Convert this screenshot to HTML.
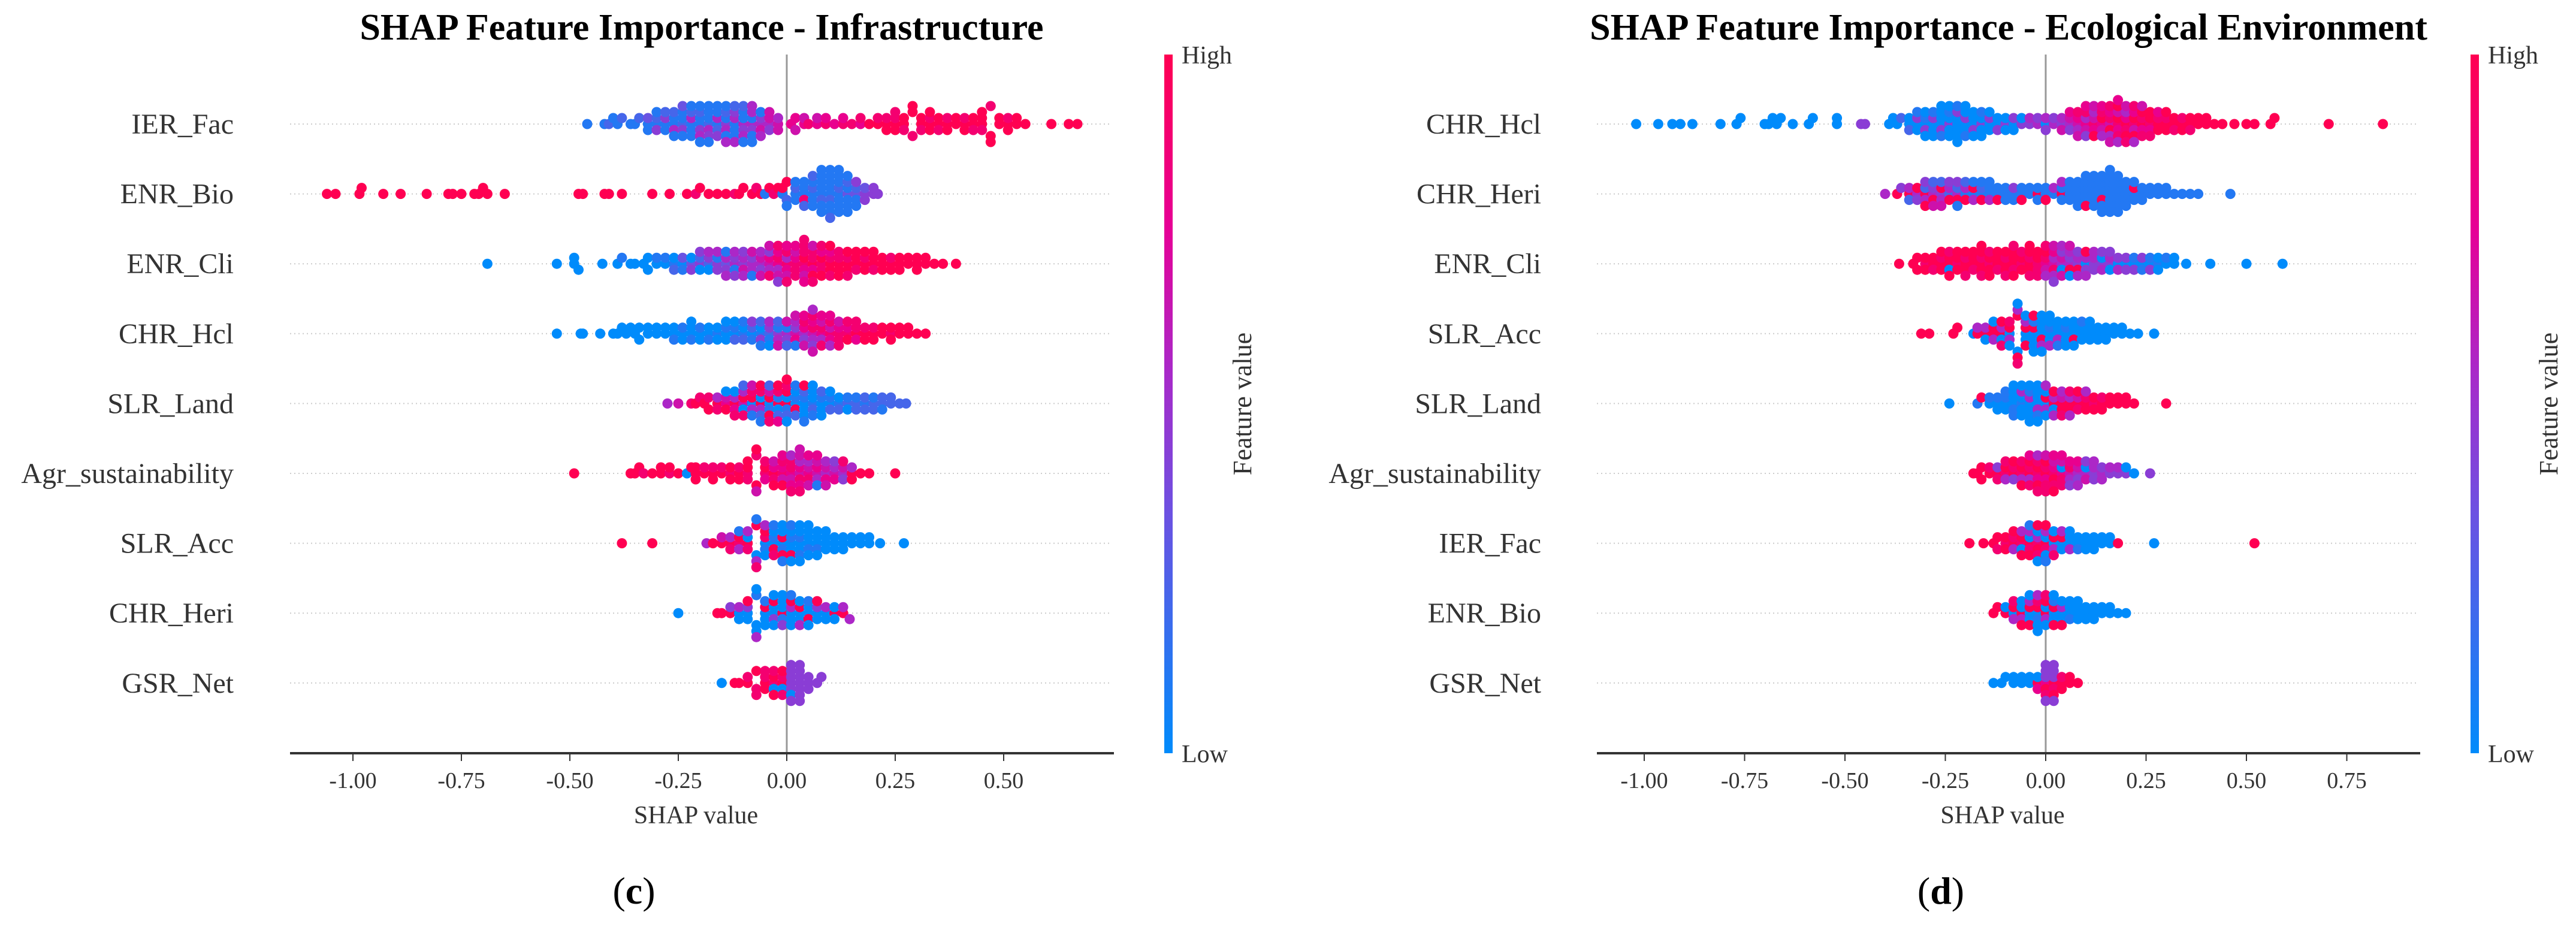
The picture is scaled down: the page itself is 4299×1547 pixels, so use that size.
<!DOCTYPE html>
<html><head><meta charset="utf-8"><title>SHAP Feature Importance</title>
<style>
html,body{margin:0;padding:0;background:#fff;}
svg{display:block;}
text{font-family:"Liberation Serif","Times New Roman",serif;}
</style></head>
<body>
<svg id="fig" width="4299" height="1547" viewBox="0 0 4299 1547" xmlns="http://www.w3.org/2000/svg">
<defs>
<linearGradient id="cbar" x1="0" y1="1" x2="0" y2="0">
<stop offset="0" stop-color="#008bfb"/><stop offset="0.35" stop-color="#6e50e1"/><stop offset="0.55" stop-color="#aa28c8"/><stop offset="0.75" stop-color="#e60096"/><stop offset="1" stop-color="#ff0052"/>
</linearGradient>
</defs>
<rect x="0" y="0" width="4299" height="1547" fill="#fff"/>
</svg>
<script>
// ---------- Panel (c) data: Infrastructure ----------
const featuresC = ["IER_Fac","ENR_Bio","ENR_Cli","CHR_Hcl","SLR_Land","Agr_sustainability","SLR_Acc","CHR_Heri","GSR_Net"];
const IER_Fac_c = [[-0.46,1],[-0.42,1],[-0.41,2],[-0.40,1],[-0.39,1],[-0.38,2],[-0.36,1],[-0.35,1],[-0.34,2],
[-0.32,1],[-0.32,3],[-0.32,1],[-0.30,1],[-0.30,2],[-0.30,4],[-0.30,1],[-0.28,1],[-0.28,4],[-0.28,1],[-0.28,2],
[-0.26,1],[-0.26,1],[-0.26,5],[-0.26,2],[-0.26,1],[-0.24,2],[-0.24,1],[-0.24,4],[-0.24,1],[-0.24,1],[-0.24,3],
[-0.22,1],[-0.22,5],[-0.22,1],[-0.22,2],[-0.22,1],[-0.22,1],[-0.20,1],[-0.20,1],[-0.20,4],[-0.20,2],[-0.20,5],[-0.20,1],[-0.20,1],
[-0.18,2],[-0.18,1],[-0.18,5],[-0.18,1],[-0.18,4],[-0.18,1],[-0.18,1],[-0.16,1],[-0.16,5],[-0.16,2],[-0.16,1],[-0.16,4],[-0.16,1],
[-0.14,4],[-0.14,1],[-0.14,5],[-0.14,2],[-0.14,1],[-0.14,1],[-0.14,5],[-0.12,1],[-0.12,5],[-0.12,1],[-0.12,4],[-0.12,1],[-0.12,2],[-0.12,5],
[-0.10,5],[-0.10,1],[-0.10,4],[-0.10,1],[-0.10,5],[-0.10,2],[-0.10,1],[-0.08,5],[-0.08,1],[-0.08,4],[-0.08,5],[-0.08,1],[-0.08,5],[-0.08,1],
[-0.06,5],[-0.06,4],[-0.06,6],[-0.06,1],[-0.06,5],[-0.04,5],[-0.04,6],[-0.04,4],[-0.04,6],[-0.02,6],[-0.02,5],[-0.02,6],
[0.01,7],[0.02,7],[0.02,6],[0.04,7],[0.04,6],[0.05,8],[0.07,7],[0.07,6],[0.09,8],[0.09,7],[0.11,7],[0.13,8],[0.13,7],[0.15,8],[0.17,7],[0.17,8],[0.19,9],
[0.21,9],[0.21,8],[0.23,9],[0.23,8],[0.23,9],[0.25,9],[0.25,8],[0.25,9],[0.25,8],[0.27,9],[0.27,9],[0.27,8],[0.29,9],[0.29,8],[0.29,9],
[0.31,9],[0.31,9],[0.31,8],[0.33,9],[0.33,8],[0.33,9],[0.33,9],[0.35,9],[0.35,9],[0.35,8],[0.37,9],[0.37,8],[0.37,9],[0.39,9],[0.39,9],
[0.41,9],[0.41,8],[0.41,9],[0.43,9],[0.43,9],[0.43,8],[0.45,9],[0.45,9],[0.45,8],[0.45,9],[0.47,9],[0.47,8],[0.47,9],[0.49,9],[0.49,9],
[0.51,9],[0.51,8],[0.51,9],[0.53,9],[0.53,9],[0.55,9],[0.61,9],[0.65,9],[0.67,9]];
const ENR_Bio_c = [[-1.06,9],[-1.04,9],[-0.985,9],[-0.98,9],[-0.93,9],[-0.89,9],[-0.83,9],[-0.78,9],[-0.77,9],[-0.75,9],[-0.72,9],[-0.71,9],[-0.70,9],[-0.69,9],[-0.65,9],
[-0.48,9],[-0.47,9],[-0.42,9],[-0.41,9],[-0.38,9],[-0.31,9],[-0.27,9],[-0.23,9],[-0.21,8],[-0.20,9],[-0.18,9],[-0.16,9],[-0.14,9],[-0.12,8],[-0.11,9],[-0.10,9],
[-0.08,9],[-0.07,8],[-0.06,9],[-0.05,1],[-0.04,9],[-0.03,8],[-0.02,9],[-0.01,1],[-0.01,9],
[0.00,2],[0.00,9],[0.00,1],[0.02,1],[0.02,2],[0.02,1],[0.02,1],[0.04,1],[0.04,1],[0.04,8],[0.04,1],[0.04,2],
[0.06,1],[0.06,2],[0.06,1],[0.06,1],[0.06,1],[0.06,2],[0.08,1],[0.08,1],[0.08,2],[0.08,1],[0.08,1],[0.08,1],[0.08,1],[0.08,1],
[0.10,1],[0.10,1],[0.10,2],[0.10,1],[0.10,1],[0.10,1],[0.10,1],[0.10,1],[0.10,2],[0.12,1],[0.12,2],[0.12,1],[0.12,1],[0.12,1],[0.12,1],[0.12,1],[0.12,1],
[0.14,3],[0.14,1],[0.14,1],[0.14,2],[0.14,1],[0.14,1],[0.14,1],[0.16,3],[0.16,2],[0.16,1],[0.16,4],[0.16,1],[0.18,4],[0.18,3],[0.18,4],[0.20,4],[0.20,4],[0.21,4]];
const ENR_Cli_c = [[-0.69,0],[-0.53,0],[-0.49,0],[-0.49,0],[-0.48,0],[-0.425,0],[-0.39,0],[-0.38,1],[-0.36,0],[-0.35,0],[-0.33,0],[-0.32,0],[-0.32,0],
[-0.30,0],[-0.30,1],[-0.28,0],[-0.28,1],[-0.26,1],[-0.26,0],[-0.26,2],[-0.24,0],[-0.24,3],[-0.24,1],[-0.22,3],[-0.22,0],[-0.22,4],
[-0.20,4],[-0.20,2],[-0.20,0],[-0.20,4],[-0.18,2],[-0.18,4],[-0.18,0],[-0.18,5],[-0.16,4],[-0.16,1],[-0.16,4],[-0.16,5],
[-0.14,3],[-0.14,5],[-0.14,4],[-0.14,1],[-0.14,5],[-0.12,5],[-0.12,4],[-0.12,1],[-0.12,5],[-0.12,4],[-0.10,4],[-0.10,5],[-0.10,6],[-0.10,4],[-0.10,5],
[-0.08,5],[-0.08,4],[-0.08,5],[-0.08,6],[-0.08,1],[-0.06,5],[-0.06,6],[-0.06,4],[-0.06,5],[-0.06,6],[-0.04,6],[-0.04,7],[-0.04,5],[-0.04,4],[-0.04,8],[-0.04,6],
[-0.02,7],[-0.02,8],[-0.02,5],[-0.02,7],[-0.02,6],[-0.02,8],[-0.02,4],[0.00,8],[0.00,5],[0.00,7],[0.00,8],[0.00,6],[0.00,7],[0.00,8],
[0.02,8],[0.02,7],[0.02,8],[0.02,6],[0.02,8],[0.02,7],[0.04,8],[0.04,9],[0.04,7],[0.04,8],[0.04,6],[0.04,8],[0.04,7],[0.04,8],
[0.06,9],[0.06,8],[0.06,7],[0.06,8],[0.06,9],[0.06,6],[0.06,8],[0.08,8],[0.08,9],[0.08,8],[0.08,7],[0.08,9],[0.08,8],
[0.10,9],[0.10,8],[0.10,9],[0.10,7],[0.10,8],[0.10,9],[0.12,9],[0.12,8],[0.12,9],[0.12,8],[0.12,9],[0.14,9],[0.14,8],[0.14,9],[0.14,9],[0.14,8],
[0.16,9],[0.16,9],[0.16,8],[0.16,9],[0.18,9],[0.18,8],[0.18,9],[0.18,9],[0.20,9],[0.20,9],[0.20,8],[0.20,9],[0.22,9],[0.22,9],[0.22,9],
[0.24,9],[0.24,8],[0.24,9],[0.26,9],[0.26,9],[0.26,9],[0.28,9],[0.28,9],[0.30,9],[0.30,9],[0.30,9],[0.32,9],[0.32,9],[0.34,9],[0.36,9],[0.39,9]];
const CHR_Hcl_c = [[-0.53,0],[-0.475,0],[-0.47,0],[-0.43,0],[-0.40,0],[-0.39,0],[-0.38,0],[-0.37,0],[-0.36,0],[-0.35,0],[-0.34,0],[-0.34,0],[-0.32,0],[-0.32,0],
[-0.30,0],[-0.30,0],[-0.28,0],[-0.28,0],[-0.26,0],[-0.26,0],[-0.26,1],[-0.24,0],[-0.24,1],[-0.24,0],[-0.22,0],[-0.22,0],[-0.22,1],[-0.22,0],
[-0.20,0],[-0.20,1],[-0.20,0],[-0.18,0],[-0.18,0],[-0.18,1],[-0.16,1],[-0.16,0],[-0.16,0],[-0.14,0],[-0.14,1],[-0.14,0],[-0.14,0],
[-0.12,0],[-0.12,1],[-0.12,2],[-0.12,0],[-0.10,1],[-0.10,0],[-0.10,2],[-0.10,1],[-0.08,0],[-0.08,2],[-0.08,1],[-0.08,4],
[-0.06,1],[-0.06,0],[-0.06,4],[-0.06,2],[-0.06,1],[-0.04,2],[-0.04,4],[-0.04,1],[-0.04,5],[-0.04,0],[-0.02,4],[-0.02,1],[-0.02,5],[-0.02,2],[-0.02,6],
[0.00,5],[0.00,1],[0.00,4],[0.00,6],[0.00,2],[0.02,6],[0.02,4],[0.02,7],[0.02,5],[0.02,1],[0.02,6],[0.04,5],[0.04,7],[0.04,4],[0.04,8],[0.04,6],[0.04,7],
[0.06,6],[0.06,8],[0.06,5],[0.06,7],[0.06,4],[0.06,8],[0.06,6],[0.06,5],[0.08,7],[0.08,8],[0.08,5],[0.08,6],[0.08,8],[0.08,7],
[0.10,8],[0.10,6],[0.10,7],[0.10,8],[0.10,5],[0.10,7],[0.12,8],[0.12,7],[0.12,8],[0.12,6],[0.12,8],[0.14,8],[0.14,7],[0.14,9],[0.14,8],
[0.16,9],[0.16,8],[0.16,7],[0.16,8],[0.18,9],[0.18,8],[0.18,9],[0.20,9],[0.20,8],[0.20,9],[0.22,9],[0.22,9],[0.24,8],[0.24,9],[0.24,9],
[0.26,9],[0.26,9],[0.28,9],[0.28,9],[0.30,9],[0.32,9]];
const SLR_Land_c = [[-0.275,5],[-0.25,6],[-0.22,8],[-0.21,9],[-0.20,8],[-0.19,9],[-0.18,8],[-0.18,9],[-0.16,9],[-0.16,5],[-0.16,8],
[-0.14,7],[-0.14,6],[-0.14,9],[-0.14,0],[-0.12,9],[-0.12,5],[-0.12,7],[-0.12,0],[-0.12,8],[-0.10,6],[-0.10,9],[-0.10,0],[-0.10,5],[-0.10,8],[-0.10,2],
[-0.08,0],[-0.08,9],[-0.08,5],[-0.08,8],[-0.08,1],[-0.08,6],[-0.06,9],[-0.06,0],[-0.06,5],[-0.06,8],[-0.06,2],[-0.06,9],[-0.06,1],
[-0.04,0],[-0.04,9],[-0.04,1],[-0.04,6],[-0.04,9],[-0.04,2],[-0.04,8],[-0.02,9],[-0.02,1],[-0.02,0],[-0.02,8],[-0.02,2],[-0.02,9],[-0.02,7],
[0.00,9],[0.00,0],[0.00,1],[0.00,9],[0.00,2],[0.00,8],[0.00,0],[0.00,9],[0.02,0],[0.02,1],[0.02,9],[0.02,0],[0.02,2],[0.02,1],
[0.04,0],[0.04,1],[0.04,0],[0.04,2],[0.04,0],[0.04,9],[0.04,1],[0.06,1],[0.06,0],[0.06,2],[0.06,0],[0.06,1],[0.06,0],
[0.08,0],[0.08,1],[0.08,0],[0.08,2],[0.08,0],[0.10,0],[0.10,1],[0.10,2],[0.10,0],[0.12,1],[0.12,0],[0.12,2],[0.14,2],[0.14,1],[0.14,0],
[0.16,2],[0.16,1],[0.16,2],[0.18,1],[0.18,2],[0.18,2],[0.20,2],[0.20,1],[0.20,2],[0.22,2],[0.22,2],[0.22,1],[0.24,2],[0.24,2],[0.26,2],[0.275,2]];
const Agr_sustainability_c = [[-0.49,9],[-0.36,9],[-0.35,9],[-0.34,9],[-0.33,8],[-0.31,9],[-0.29,9],[-0.29,9],[-0.27,8],[-0.27,9],[-0.25,9],[-0.23,0],[-0.22,9],
[-0.21,9],[-0.21,9],[-0.21,9],[-0.19,9],[-0.19,8],[-0.17,9],[-0.17,8],[-0.17,9],[-0.15,9],[-0.15,8],[-0.13,8],[-0.13,9],[-0.13,9],
[-0.11,9],[-0.11,8],[-0.11,9],[-0.09,8],[-0.09,9],[-0.09,8],[-0.09,9],[-0.07,9],[-0.07,8],[-0.07,6],[-0.07,9],[-0.05,8],[-0.05,9],[-0.05,7],[-0.05,8],
[-0.03,9],[-0.03,7],[-0.03,8],[-0.03,6],[-0.03,9],[-0.01,8],[-0.01,7],[-0.01,6],[-0.01,8],[-0.01,9],[-0.01,7],
[0.01,7],[0.01,8],[0.01,6],[0.01,8],[0.01,7],[0.01,5],[0.01,8],[0.03,6],[0.03,7],[0.03,8],[0.03,5],[0.03,7],[0.03,6],[0.03,8],[0.03,6],
[0.05,7],[0.05,6],[0.05,8],[0.05,5],[0.05,6],[0.05,7],[0.07,6],[0.07,7],[0.07,5],[0.07,6],[0.07,1],[0.07,7],[0.09,5],[0.09,6],[0.09,7],[0.09,5],[0.09,6],
[0.11,6],[0.11,5],[0.11,7],[0.11,4],[0.13,5],[0.13,6],[0.13,4],[0.13,8],[0.15,9],[0.15,5],[0.15,9],[0.17,9],[0.19,9],[0.25,9]];
const SLR_Acc_c = [[-0.38,9],[-0.31,9],[-0.185,5],[-0.17,9],[-0.15,9],[-0.15,6],[-0.13,9],[-0.13,5],[-0.13,8],[-0.11,8],[-0.11,9],[-0.11,5],[-0.11,1],
[-0.09,9],[-0.09,0],[-0.09,8],[-0.09,5],[-0.07,0],[-0.07,9],[-0.07,5],[-0.07,1],[-0.07,8],[-0.05,0],[-0.05,8],[-0.05,1],[-0.05,9],[-0.05,0],[-0.05,5],
[-0.03,0],[-0.03,1],[-0.03,9],[-0.03,0],[-0.03,8],[-0.03,1],[-0.01,0],[-0.01,9],[-0.01,1],[-0.01,0],[-0.01,9],[-0.01,0],[-0.01,1],
[0.01,0],[0.01,1],[0.01,0],[0.01,0],[0.01,9],[0.01,1],[0.01,0],[0.03,0],[0.03,1],[0.03,0],[0.03,0],[0.03,1],[0.03,0],[0.03,0],
[0.05,0],[0.05,0],[0.05,1],[0.05,0],[0.05,0],[0.05,0],[0.07,0],[0.07,0],[0.07,1],[0.07,0],[0.07,0],[0.09,0],[0.09,0],[0.09,0],[0.09,0],
[0.11,0],[0.11,0],[0.11,0],[0.13,0],[0.13,0],[0.13,0],[0.15,0],[0.15,0],[0.17,0],[0.17,0],[0.19,0],[0.19,0],[0.215,0],[0.27,0]];
const CHR_Heri_c = [[-0.25,0],[-0.16,9],[-0.15,9],[-0.13,9],[-0.13,4],[-0.11,0],[-0.11,5],[-0.11,0],[-0.09,0],[-0.09,4],[-0.09,0],[-0.09,9],
[-0.07,0],[-0.07,1],[-0.07,0],[-0.07,0],[-0.07,5],[-0.05,0],[-0.05,9],[-0.05,0],[-0.05,1],[-0.05,0],[-0.03,0],[-0.03,0],[-0.03,4],[-0.03,9],[-0.03,0],[-0.03,0],
[-0.01,9],[-0.01,0],[-0.01,1],[-0.01,0],[-0.01,4],[-0.01,0],[0.01,0],[0.01,5],[0.01,0],[0.01,9],[0.01,0],[0.01,1],[0.03,0],[0.03,9],[0.03,0],[0.03,0],[0.03,5],
[0.05,0],[0.05,0],[0.05,9],[0.05,1],[0.05,0],[0.07,0],[0.07,4],[0.07,0],[0.07,9],[0.09,0],[0.09,5],[0.09,0],[0.11,9],[0.11,0],[0.11,0],[0.13,9],[0.13,5],[0.145,5]];
const GSR_Net_c = [[-0.15,0],[-0.12,9],[-0.11,9],[-0.09,9],[-0.09,8],[-0.07,8],[-0.07,9],[-0.07,8],[-0.05,9],[-0.05,8],[-0.05,9],[-0.05,8],
[-0.03,8],[-0.03,9],[-0.03,0],[-0.03,8],[-0.03,9],[-0.01,9],[-0.01,8],[-0.01,0],[-0.01,9],[-0.01,8],
[0.01,4],[0.01,4],[0.01,4],[0.01,4],[0.01,0],[0.01,4],[0.01,4],[0.03,4],[0.03,4],[0.03,4],[0.03,4],[0.03,4],[0.03,4],[0.03,4],[0.05,4],[0.05,4],[0.05,4],[0.07,4],[0.08,4]];
const pointsC = [IER_Fac_c, ENR_Bio_c, ENR_Cli_c, CHR_Hcl_c, SLR_Land_c, Agr_sustainability_c, SLR_Acc_c, CHR_Heri_c, GSR_Net_c];
const ticksC = [-1.00,-0.75,-0.50,-0.25,0.00,0.25,0.50];

// ---------- Panel (d) data: Ecological Environment ----------
const featuresD = ["CHR_Hcl","CHR_Heri","ENR_Cli","SLR_Acc","SLR_Land","Agr_sustainability","IER_Fac","ENR_Bio","GSR_Net"];
const CHR_Hcl_d = [[-1.02,0],[-0.965,0],[-0.93,0],[-0.91,0],[-0.88,0],[-0.81,0],[-0.77,0],[-0.76,0],[-0.70,0],[-0.69,0],[-0.68,0],[-0.67,0],[-0.66,0],[-0.63,0],[-0.59,0],[-0.58,0],
[-0.52,0],[-0.52,0],[-0.46,4],[-0.45,4],[-0.39,0],[-0.38,0],[-0.37,0],[-0.36,2],
[-0.34,0],[-0.34,0],[-0.34,2],[-0.32,0],[-0.32,4],[-0.32,0],[-0.32,1],[-0.30,0],[-0.30,1],[-0.30,4],[-0.30,0],[-0.30,0],[-0.28,0],[-0.28,4],[-0.28,0],[-0.28,1],[-0.28,0],
[-0.26,0],[-0.26,0],[-0.26,4],[-0.26,0],[-0.26,1],[-0.26,0],[-0.24,4],[-0.24,0],[-0.24,0],[-0.24,1],[-0.24,0],[-0.24,0],
[-0.22,0],[-0.22,0],[-0.22,0],[-0.22,4],[-0.22,0],[-0.22,1],[-0.22,0],[-0.20,0],[-0.20,4],[-0.20,0],[-0.20,0],[-0.20,1],[-0.20,0],
[-0.18,0],[-0.18,0],[-0.18,4],[-0.18,0],[-0.18,0],[-0.16,4],[-0.16,0],[-0.16,0],[-0.16,1],[-0.16,0],[-0.14,0],[-0.14,4],[-0.14,0],[-0.14,0],
[-0.12,0],[-0.12,0],[-0.12,4],[-0.10,4],[-0.10,0],[-0.10,0],[-0.08,0],[-0.08,4],[-0.08,0],[-0.06,4],[-0.06,0],[-0.04,4],[-0.04,5],[-0.02,5],[-0.02,4],[0.00,0],[0.00,5],[0.00,4],
[0.02,5],[0.02,4],[0.04,4],[0.04,5],[0.04,6],[0.06,5],[0.06,6],[0.06,4],[0.06,7],[0.08,6],[0.08,7],[0.08,5],[0.08,8],[0.08,6],
[0.10,7],[0.10,5],[0.10,6],[0.10,8],[0.10,4],[0.10,7],[0.12,8],[0.12,6],[0.12,7],[0.12,5],[0.12,9],[0.12,6],[0.14,7],[0.14,9],[0.14,6],[0.14,8],[0.14,5],[0.14,7],
[0.16,6],[0.16,8],[0.16,9],[0.16,7],[0.16,5],[0.16,8],[0.16,6],[0.18,8],[0.18,9],[0.18,7],[0.18,6],[0.18,8],[0.18,9],[0.18,5],[0.18,7],
[0.20,9],[0.20,7],[0.20,8],[0.20,5],[0.20,9],[0.20,6],[0.20,8],[0.22,8],[0.22,9],[0.22,6],[0.22,7],[0.22,9],[0.22,8],[0.22,5],
[0.24,9],[0.24,8],[0.24,7],[0.24,9],[0.24,8],[0.24,6],[0.26,8],[0.26,9],[0.26,7],[0.26,9],[0.26,8],[0.28,9],[0.28,8],[0.28,9],[0.28,7],
[0.30,9],[0.30,8],[0.30,9],[0.30,9],[0.32,9],[0.32,9],[0.32,8],[0.34,9],[0.34,8],[0.34,9],[0.36,9],[0.36,9],[0.36,8],[0.38,9],[0.38,9],[0.40,9],[0.40,9],
[0.42,9],[0.44,9],[0.47,9],[0.50,9],[0.52,9],[0.56,9],[0.57,9],[0.705,9],[0.84,9]];
const CHR_Heri_d = [[-0.40,5],[-0.37,9],[-0.36,4],[-0.34,9],[-0.34,5],[-0.34,2],[-0.32,5],[-0.32,9],[-0.32,4],[-0.30,9],[-0.30,2],[-0.30,5],[-0.30,4],[-0.30,9],
[-0.28,5],[-0.28,4],[-0.28,9],[-0.28,2],[-0.28,6],[-0.26,4],[-0.26,9],[-0.26,5],[-0.26,2],[-0.26,6],[-0.24,2],[-0.24,5],[-0.24,9],[-0.24,4],
[-0.22,5],[-0.22,2],[-0.22,9],[-0.22,4],[-0.22,1],[-0.20,1],[-0.20,5],[-0.20,9],[-0.20,2],[-0.18,1],[-0.18,9],[-0.18,5],[-0.18,1],
[-0.16,1],[-0.16,2],[-0.16,9],[-0.16,1],[-0.14,1],[-0.14,1],[-0.14,5],[-0.14,1],[-0.12,1],[-0.12,1],[-0.12,9],[-0.10,1],[-0.10,1],[-0.10,1],
[-0.08,1],[-0.08,4],[-0.08,1],[-0.06,1],[-0.06,1],[-0.06,9],[-0.04,1],[-0.04,1],[-0.02,9],[-0.02,1],[-0.02,1],[0.00,1],[0.00,1],[0.00,9],
[0.02,1],[0.02,5],[0.04,9],[0.04,1],[0.04,1],[0.04,5],[0.06,1],[0.06,1],[0.06,1],[0.06,1],[0.08,1],[0.08,1],[0.08,1],[0.08,1],[0.08,1],
[0.10,1],[0.10,1],[0.10,1],[0.10,1],[0.10,9],[0.10,1],[0.12,1],[0.12,1],[0.12,1],[0.12,1],[0.12,1],[0.12,1],[0.14,1],[0.14,1],[0.14,9],[0.14,1],[0.14,1],[0.14,1],[0.14,1],
[0.16,1],[0.16,1],[0.16,1],[0.16,1],[0.16,1],[0.16,1],[0.16,1],[0.16,1],[0.18,1],[0.18,1],[0.18,1],[0.18,1],[0.18,1],[0.18,1],[0.18,1],
[0.20,1],[0.20,1],[0.20,1],[0.20,1],[0.20,1],[0.22,1],[0.22,9],[0.22,1],[0.22,1],[0.24,1],[0.24,1],[0.24,1],[0.26,1],[0.26,1],[0.28,1],[0.28,1],[0.30,1],[0.30,1],
[0.32,1],[0.34,1],[0.36,1],[0.38,1],[0.46,1]];
const ENR_Cli_d = [[-0.365,9],[-0.33,9],[-0.32,9],[-0.32,9],[-0.30,8],[-0.30,9],[-0.30,9],[-0.28,9],[-0.28,9],[-0.28,8],[-0.26,9],[-0.26,8],[-0.26,9],[-0.26,9],
[-0.24,9],[-0.24,9],[-0.24,0],[-0.24,8],[-0.24,9],[-0.22,8],[-0.22,9],[-0.22,9],[-0.22,9],[-0.20,9],[-0.20,8],[-0.20,9],[-0.20,9],[-0.20,8],
[-0.18,9],[-0.18,9],[-0.18,8],[-0.18,9],[-0.16,9],[-0.16,8],[-0.16,9],[-0.16,9],[-0.16,8],[-0.16,9],[-0.14,8],[-0.14,9],[-0.14,9],[-0.14,8],[-0.14,9],
[-0.12,9],[-0.12,9],[-0.12,8],[-0.12,9],[-0.10,9],[-0.10,8],[-0.10,9],[-0.10,9],[-0.10,8],[-0.08,9],[-0.08,9],[-0.08,8],[-0.08,9],[-0.08,9],[-0.08,8],
[-0.06,8],[-0.06,9],[-0.06,9],[-0.06,8],[-0.04,9],[-0.04,8],[-0.04,9],[-0.04,9],[-0.04,8],[-0.04,9],[-0.02,8],[-0.02,9],[-0.02,8],[-0.02,9],[-0.02,8],
[0.00,7],[0.00,8],[0.00,6],[0.00,9],[0.00,5],[0.00,8],[0.02,6],[0.02,5],[0.02,8],[0.02,7],[0.02,5],[0.02,6],[0.02,4],
[0.04,5],[0.04,6],[0.04,0],[0.04,4],[0.04,6],[0.04,5],[0.06,5],[0.06,4],[0.06,9],[0.06,5],[0.06,0],[0.06,6],[0.08,4],[0.08,5],[0.08,9],[0.08,4],[0.08,5],
[0.10,0],[0.10,5],[0.10,4],[0.10,9],[0.10,5],[0.12,4],[0.12,5],[0.12,4],[0.12,5],[0.14,4],[0.14,0],[0.14,5],[0.14,4],[0.16,4],[0.16,5],[0.16,0],[0.16,4],
[0.18,0],[0.18,4],[0.18,5],[0.20,0],[0.20,4],[0.20,4],[0.22,0],[0.22,1],[0.22,4],[0.24,0],[0.24,4],[0.24,1],[0.26,0],[0.26,1],[0.26,4],
[0.28,1],[0.28,0],[0.28,0],[0.30,0],[0.30,1],[0.32,0],[0.32,0],[0.35,0],[0.41,0],[0.50,0],[0.59,0]];
const SLR_Acc_d = [[-0.31,9],[-0.29,9],[-0.23,9],[-0.22,9],[-0.18,0],[-0.17,9],[-0.17,5],[-0.15,9],[-0.15,5],[-0.15,0],[-0.13,9],[-0.13,9],[-0.13,5],[-0.13,0],
[-0.11,9],[-0.11,5],[-0.11,0],[-0.11,9],[-0.11,8],[-0.09,0],[-0.09,9],[-0.09,5],[-0.09,8],[-0.09,0],[-0.07,9],[-0.07,0],[-0.07,5],[-0.07,9],[-0.07,0],[-0.07,8],
[-0.05,0],[-0.05,9],[-0.05,0],[-0.05,5],[-0.05,9],[-0.05,0],[-0.03,0],[-0.03,9],[-0.03,0],[-0.03,1],[-0.03,0],[-0.03,9],[-0.03,0],
[-0.01,0],[-0.01,0],[-0.01,9],[-0.01,0],[-0.01,5],[-0.01,0],[-0.01,0],[0.01,0],[0.01,1],[0.01,0],[0.01,0],[0.01,5],[0.01,0],
[0.03,0],[0.03,0],[0.03,5],[0.03,0],[0.03,1],[0.05,0],[0.05,1],[0.05,0],[0.05,0],[0.05,0],[0.07,0],[0.07,0],[0.07,9],[0.07,0],[0.07,0],
[0.09,0],[0.09,0],[0.09,0],[0.09,1],[0.11,0],[0.11,0],[0.11,0],[0.11,0],[0.13,0],[0.13,0],[0.13,0],[0.15,0],[0.15,0],[0.15,0],
[0.17,0],[0.17,0],[0.19,0],[0.19,0],[0.21,0],[0.23,0],[0.27,0]];
const SLR_Land_d = [[-0.24,0],[-0.17,1],[-0.16,9],[-0.14,0],[-0.14,1],[-0.12,0],[-0.12,1],[-0.12,0],[-0.10,0],[-0.10,1],[-0.10,0],[-0.10,1],
[-0.08,0],[-0.08,0],[-0.08,1],[-0.08,0],[-0.08,1],[-0.08,0],[-0.06,1],[-0.06,0],[-0.06,0],[-0.06,5],[-0.06,0],[-0.06,0],
[-0.04,0],[-0.04,5],[-0.04,0],[-0.04,1],[-0.04,0],[-0.04,0],[-0.04,0],[-0.02,0],[-0.02,0],[-0.02,5],[-0.02,0],[-0.02,1],[-0.02,0],[-0.02,0],
[0.00,0],[0.00,9],[0.00,5],[0.00,0],[0.00,0],[0.00,5],[0.02,9],[0.02,5],[0.02,0],[0.02,9],[0.02,5],[0.04,9],[0.04,6],[0.04,9],[0.04,5],[0.04,8],
[0.06,9],[0.06,5],[0.06,9],[0.06,8],[0.06,5],[0.08,9],[0.08,6],[0.08,8],[0.08,9],[0.10,9],[0.10,8],[0.10,9],[0.10,5],[0.12,8],[0.12,9],[0.12,9],
[0.14,9],[0.14,8],[0.14,9],[0.16,9],[0.16,9],[0.18,9],[0.18,9],[0.20,9],[0.20,9],[0.22,9],[0.30,9]];
const Agr_sustainability_d = [[-0.18,9],[-0.17,9],[-0.16,9],[-0.16,9],[-0.14,9],[-0.14,8],[-0.12,9],[-0.12,4],[-0.12,8],[-0.10,8],[-0.10,9],[-0.10,5],[-0.10,8],
[-0.08,9],[-0.08,8],[-0.08,4],[-0.08,9],[-0.06,8],[-0.06,9],[-0.06,5],[-0.06,8],[-0.06,9],[-0.04,9],[-0.04,8],[-0.04,5],[-0.04,9],[-0.04,8],[-0.04,7],
[-0.02,8],[-0.02,9],[-0.02,7],[-0.02,8],[-0.02,9],[-0.02,5],[-0.02,8],[0.00,9],[0.00,8],[0.00,7],[0.00,9],[0.00,8],[0.00,6],[0.00,8],
[0.02,8],[0.02,7],[0.02,9],[0.02,6],[0.02,8],[0.02,7],[0.02,9],[0.04,7],[0.04,0],[0.04,8],[0.04,6],[0.04,8],[0.04,7],
[0.06,6],[0.06,8],[0.06,5],[0.06,7],[0.06,4],[0.08,5],[0.08,6],[0.08,4],[0.08,7],[0.08,5],[0.10,5],[0.10,0],[0.10,6],[0.10,4],
[0.12,4],[0.12,5],[0.12,4],[0.12,5],[0.14,5],[0.14,4],[0.14,5],[0.16,4],[0.16,5],[0.18,4],[0.18,5],[0.20,4],[0.20,0],[0.22,0],[0.26,4]];
const IER_Fac_d = [[-0.19,9],[-0.155,9],[-0.13,9],[-0.12,9],[-0.12,8],[-0.10,8],[-0.10,9],[-0.10,9],[-0.08,9],[-0.08,8],[-0.08,5],[-0.08,9],
[-0.06,8],[-0.06,9],[-0.06,0],[-0.06,5],[-0.06,9],[-0.04,9],[-0.04,0],[-0.04,8],[-0.04,5],[-0.04,9],[-0.04,1],
[-0.02,8],[-0.02,5],[-0.02,9],[-0.02,0],[-0.02,8],[-0.02,9],[-0.02,0],[0.00,9],[0.00,0],[0.00,8],[0.00,5],[0.00,0],[0.00,9],[0.00,1],
[0.02,0],[0.02,9],[0.02,5],[0.02,0],[0.02,8],[0.04,0],[0.04,9],[0.04,0],[0.04,5],[0.06,0],[0.06,0],[0.06,5],[0.06,0],[0.08,0],[0.08,0],[0.08,1],
[0.10,0],[0.10,0],[0.10,0],[0.12,0],[0.12,0],[0.12,0],[0.14,0],[0.14,0],[0.16,0],[0.16,0],[0.18,9],[0.27,0],[0.52,9]];
const ENR_Bio_d = [[-0.13,9],[-0.12,9],[-0.10,9],[-0.10,0],[-0.08,0],[-0.08,9],[-0.08,5],[-0.08,8],[-0.06,9],[-0.06,0],[-0.06,5],[-0.06,0],[-0.06,9],
[-0.04,0],[-0.04,9],[-0.04,0],[-0.04,5],[-0.04,9],[-0.04,0],[-0.02,0],[-0.02,9],[-0.02,1],[-0.02,8],[-0.02,0],[-0.02,5],[-0.02,0],
[0.00,9],[0.00,0],[0.00,5],[0.00,9],[0.00,0],[0.00,8],[0.02,0],[0.02,9],[0.02,0],[0.02,1],[0.02,9],[0.02,0],[0.04,0],[0.04,5],[0.04,0],[0.04,0],[0.04,9],
[0.06,0],[0.06,0],[0.06,1],[0.06,0],[0.08,0],[0.08,0],[0.08,0],[0.08,0],[0.10,0],[0.10,0],[0.10,0],[0.12,0],[0.12,0],[0.12,0],[0.14,0],[0.14,0],[0.16,0],[0.16,0],[0.18,0],[0.20,0]];
const GSR_Net_d = [[-0.13,0],[-0.11,0],[-0.10,0],[-0.08,0],[-0.08,0],[-0.06,0],[-0.06,0],[-0.04,0],[-0.04,0],[-0.02,9],[-0.02,0],[-0.02,7],
[0.00,7],[0.00,4],[0.00,9],[0.00,4],[0.00,8],[0.00,4],[0.00,4],[0.02,9],[0.02,4],[0.02,8],[0.02,4],[0.02,9],[0.02,4],[0.02,4],[0.04,9],[0.04,8],[0.04,9],[0.06,9],[0.06,9],[0.08,9]];
const pointsD = [CHR_Hcl_d, CHR_Heri_d, ENR_Cli_d, SLR_Acc_d, SLR_Land_d, Agr_sustainability_d, IER_Fac_d, ENR_Bio_d, GSR_Net_d];
const ticksD = [-1.00,-0.75,-0.50,-0.25,0.00,0.25,0.50,0.75];

const NS = "http://www.w3.org/2000/svg";
const svg = document.getElementById('fig');
function mk(tag, attrs, parent) {
  const e = document.createElementNS(NS, tag);
  for (const k in attrs) e.setAttribute(k, attrs[k]);
  (parent || svg).appendChild(e);
  return e;
}
const stops = [[0,[0,139,251]],[0.35,[110,80,225]],[0.55,[170,40,200]],[0.75,[230,0,150]],[1,[255,0,82]]];
function cmap(t) {
  for (let i = 1; i < stops.length; i++) {
    if (t <= stops[i][0]) {
      const a = stops[i-1], b = stops[i], f = (t - a[0]) / (b[0] - a[0]);
      const c = a[1].map((v, j) => Math.round(v + (b[1][j] - v) * f));
      return `rgb(${c[0]},${c[1]},${c[2]})`;
    }
  }
  return 'rgb(255,0,82)';
}

function drawPanel(cfg) {
  const g = mk('g', {});
  
  
  const xs = v => cfg.zeroX + v * cfg.pxPerUnit;
  const ys = i => cfg.row0 + i * cfg.rowStep;
  const t = mk('text', {x: cfg.titleX, y: 66, 'text-anchor': 'middle', 'font-size': 62, 'font-weight': 'bold', fill: '#000'}, g);
  t.textContent = cfg.title;
  
  
  cfg.features.forEach((f, i) => {
    const ln = mk('line', {x1: cfg.axisX0, x2: cfg.axisX1 - 6, y1: ys(i), y2: ys(i), stroke: '#cccccc', 'stroke-width': 2, 'stroke-dasharray': '2 5'}, g);
    
    
    const lb = mk('text', {x: cfg.labelRight, y: ys(i) + 16, 'text-anchor': 'end', 'font-size': 48, fill: '#333'}, g);
    lb.textContent = f;
    
    
  });
  const z = mk('line', {x1: xs(0), x2: xs(0), y1: 91, y2: 1257, stroke: '#999', 'stroke-width': 3}, g);
  
  
  cfg.points.forEach((pts, i) => {
    const bins = {};
    pts.forEach(p => {
      const key = Math.round(p[0] / 0.02);
      const k = bins[key] = (bins[key] || 0) + 1;
      const n = k - 1;
      const off = n === 0 ? 0 : (n % 2 ? -1 : 1) * Math.ceil(n / 2) * 10;
      const c = mk('circle', {cx: xs(p[0]).toFixed(1), cy: (ys(i) + off).toFixed(1), r: 8.5, fill: cmap(p[1] / 9)}, g);
      
      
    });
  });
  const ax = mk('line', {x1: cfg.axisX0, x2: cfg.axisX1, y1: 1257, y2: 1257, stroke: '#333', 'stroke-width': 4}, g);
  
  
  cfg.ticks.forEach(v => {
    const tk = mk('line', {x1: xs(v), x2: xs(v), y1: 1257, y2: 1270, stroke: '#333', 'stroke-width': 2}, g);
    
    
    const tl = mk('text', {x: xs(v), y: 1315, 'text-anchor': 'middle', 'font-size': 38, fill: '#333'}, g);
    tl.textContent = (v < 0 ? '-' : '') + Math.abs(v).toFixed(2);
    
    
  });
  const xt = mk('text', {x: (cfg.axisX0 + cfg.axisX1) / 2 - 10, y: 1374, 'text-anchor': 'middle', 'font-size': 42, fill: '#333'}, g);
  xt.textContent = 'SHAP value';
  
  
  const cb = mk('rect', {x: cfg.cbX, y: 91, width: 14, height: 1166, fill: 'url(#cbar)'}, g);
  
  
  const hi = mk('text', {x: cfg.cbX + 29, y: 106, 'font-size': 42, fill: '#333'}, g);
  hi.textContent = 'High';
  
  
  const lo = mk('text', {x: cfg.cbX + 29, y: 1272, 'font-size': 42, fill: '#333'}, g);
  lo.textContent = 'Low';
  
  
  const fv = mk('text', {x: 0, y: 0, 'text-anchor': 'middle', 'font-size': 44, fill: '#333', transform: `translate(${cfg.cbX + 145},674) rotate(-90)`}, g);
  fv.textContent = 'Feature value';
  
  
  const pl = mk('text', {x: cfg.letterX, y: 1508, 'text-anchor': 'middle', 'font-size': 64, fill: '#000'}, g);
  pl.innerHTML = '(<tspan font-weight="bold">' + cfg.letter + '</tspan>)';
  
  
}

drawPanel({name: 'panel-c-infrastructure', title: 'SHAP Feature Importance - Infrastructure', titleX: 1171,
  features: featuresC, points: pointsC, ticks: ticksC, zeroX: 1313, pxPerUnit: 724,
  axisX0: 484, axisX1: 1859, row0: 207, rowStep: 116.6, labelRight: 390, cbX: 1943, letter: 'c', letterX: 1058});
drawPanel({name: 'panel-d-ecological', title: 'SHAP Feature Importance - Ecological Environment', titleX: 3352,
  features: featuresD, points: pointsD, ticks: ticksD, zeroX: 3414, pxPerUnit: 670,
  axisX0: 2665, axisX1: 4039, row0: 207, rowStep: 116.6, labelRight: 2572, cbX: 4123, letter: 'd', letterX: 3239});
</script>
</body></html>
